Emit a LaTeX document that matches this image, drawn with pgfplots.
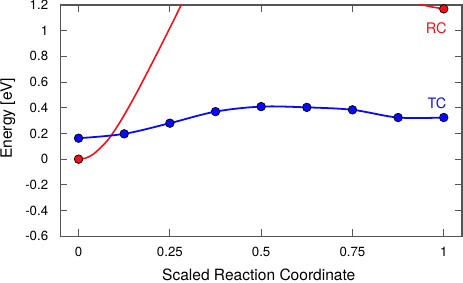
\documentclass[border=0pt]{standalone}
\usepackage{pgfplots}
\pgfplotsset{compat=1.18}
\usepackage{fontspec}
\setmainfont{TeX Gyre Heros}
\definecolor{tcblue}{RGB}{10,10,250}
\definecolor{rcred}{RGB}{245,15,25}
\definecolor{axgray}{RGB}{85,85,85}
\begin{document}
\begin{tikzpicture}
\begin{axis}[
  scale only axis,
  width=403bp, height=232bp,
  xmin=-0.05, xmax=1.05, ymin=-0.6, ymax=1.2,
  xtick={0,0.25,0.5,0.75,1},
  xticklabels={0,0.25,0.5,0.75,1},
  ytick={-0.6,-0.4,-0.2,0,0.2,0.4,0.6,0.8,1,1.2},
  yticklabels={-0.6,-0.4,-0.2,0,0.2,0.4,0.6,0.8,1,1.2},
  tick align=inside,
  major tick length=7bp,
  tick style={axgray, line width=0.9bp},
  axis line style={axgray, line width=1.1bp},
  font=\fontsize{13.3bp}{15bp}\selectfont,
  xlabel={Scaled Reaction Coordinate},
  ylabel={Energy [eV]},
  xlabel style={at={(axis description cs:0.494,-0.1668)}, anchor=center, inner sep=0pt, font=\fontsize{15.6bp}{17bp}\selectfont},
  ylabel style={at={(axis description cs:-0.1303,0.509)}, anchor=center, inner sep=0pt, font=\fontsize{15.7bp}{17bp}\selectfont},
  xticklabel style={anchor=center, inner sep=0pt, yshift=-16bp},
  yticklabel style={anchor=east, inner sep=0pt, xshift=-12bp},
  clip=true,
]
\addplot[rcred, line width=1.6bp, smooth, tension=0.5] coordinates {
(0,0) (0.02,0.009) (0.044,0.047) (0.081,0.152) (0.117,0.305) (0.154,0.49) (0.19,0.685) (0.226,0.885) (0.262,1.09) (0.28,1.195) (0.3,1.313)
};
\addplot[rcred, line width=1.6bp, smooth, tension=0.5] coordinates {
(0.9,1.24) (0.944,1.2) (0.971,1.183) (1,1.17)
};
\addplot[tcblue, line width=1.8bp, smooth, tension=0.55] coordinates {
(0,0.163) (0.125,0.197) (0.25,0.28) (0.375,0.37) (0.5,0.409) (0.625,0.403) (0.75,0.384) (0.875,0.324) (1,0.324)
};
\addplot[only marks, mark=*, mark size=4.3bp, mark options={fill=tcblue, draw=black, line width=0.7bp}] coordinates {
(0,0.163) (0.125,0.197) (0.25,0.28) (0.375,0.37) (0.5,0.409) (0.625,0.403) (0.75,0.384) (0.875,0.324) (1,0.324)
};
\addplot[only marks, mark=*, mark size=4.3bp, mark options={fill=rcred, draw=black, line width=0.7bp}] coordinates {
(0,0) (1,1.17)
};
\node[anchor=east, inner sep=0pt, text=rcred, font=\fontsize{14.6bp}{16bp}\selectfont] at (axis cs:1.0087,1.022) {RC};
\node[anchor=east, inner sep=0pt, text=tcblue, font=\fontsize{14.4bp}{16bp}\selectfont] at (axis cs:1.0071,0.435) {TC};
\end{axis}
\pgfresetboundingbox
\path[use as bounding box] ([shift={(-60.5bp,-46.5bp)}]current axis.south west) rectangle ([shift={(1bp,5bp)}]current axis.north east);
\end{tikzpicture}
\end{document}
